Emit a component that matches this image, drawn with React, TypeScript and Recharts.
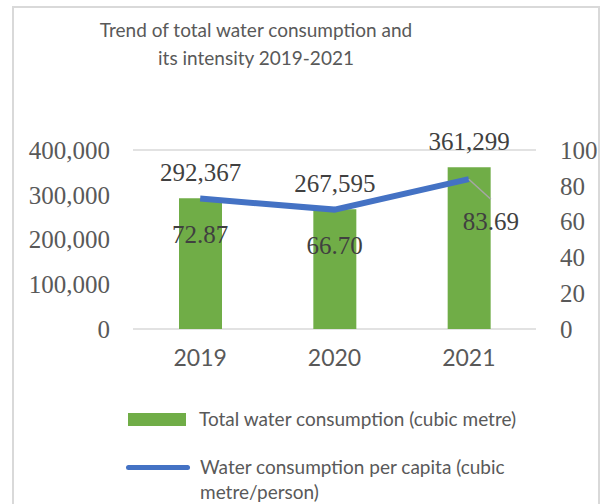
import React from "react";
import {
  ComposedChart,
  Bar,
  Line,
  XAxis,
  YAxis,
  CartesianGrid,
  LabelList,
} from "recharts";

const years = ["2019", "2020", "2021"];
const totalWater = [292367, 267595, 361299];
const perCapita = [72.87, 66.7, 83.69];
const leftTicks = [0, 100000, 200000, 300000, 400000];
const rightTicks = [0, 20, 40, 60, 80, 100];
const titleLines = ["Trend of total water consumption and", "its intensity 2019-2021"];
const barName = "Total water consumption (cubic metre)";
const lineName = "Water consumption per capita (cubic metre/person)";

const data = years.map((y, i) => ({ year: y, total: totalWater[i], perCapita: perCapita[i] }));

const SERIF = "'Liberation Serif', 'Times New Roman', serif";
const SANS = "Lato, 'Open Sans', sans-serif";
const GREEN = "#70AD47";
const BLUE = "#4472C4";

const fmt = (v: number) => v.toLocaleString("en-US");

const LineLabel = (props: any) => {
  const { x, y, value, index } = props;
  const text = Number(value).toFixed(2);
  if (index === 2) {
    return (
      <g>
        <line x1={x} y1={y} x2={x + 22} y2={y + 20} stroke="#A6A6A6" strokeWidth={1.5} />
        <text x={x + 22} y={y + 51} textAnchor="middle" fontFamily={SERIF} fontSize={25} fill="#404040">
          {text}
        </text>
      </g>
    );
  }
  return (
    <text x={x} y={y + 44} textAnchor="middle" fontFamily={SERIF} fontSize={25} fill="#404040">
      {text}
    </text>
  );
};

const BarLabel = (props: any) => {
  const { x, y, width, value } = props;
  return (
    <text x={x + width / 2} y={y - 17} textAnchor="middle" fontFamily={SERIF} fontSize={25} fill="#404040">
      {fmt(value)}
    </text>
  );
};

export default function App() {
  return (
    <div style={{ position: "absolute", left: 0, top: 0, width: 604, height: 504, background: "#fff", overflow: "hidden" }}>
      <div
        style={{
          position: "absolute",
          left: 12,
          top: 6,
          width: 588,
          height: 520,
          border: "2px solid #D9D9D9",
          boxSizing: "border-box",
        }}
      />
      <div
        style={{
          position: "absolute",
          left: 56,
          top: 16,
          width: 400,
          textAlign: "center",
          fontFamily: SANS,
          fontSize: 19,
          lineHeight: "28px",
          color: "#595959",
        }}
      >
        {titleLines.map((t) => (
          <div key={t}>{t}</div>
        ))}
      </div>
      <div style={{ position: "absolute", left: 0, top: 0 }}>
        <ComposedChart
          width={604}
          height={504}
          data={data}
          margin={{ top: 150, right: 0, bottom: 135, left: 0 }}
          barCategoryGap={0}
        >
          <CartesianGrid vertical={false} stroke="#D9D9D9" strokeWidth={1.5} />
          <XAxis
            dataKey="year"
            axisLine={false}
            tickLine={false}
            tickSize={0}
            tickMargin={21}
            height={40}
            tick={{ fontFamily: SANS, fontSize: 23, fill: "#595959" }}
          />
          <YAxis
            yAxisId="left"
            orientation="left"
            domain={[0, 400000]}
            ticks={leftTicks}
            tickFormatter={fmt}
            axisLine={false}
            tickLine={false}
            tickSize={0}
            tickMargin={23}
            width={133}
            tick={{ fontFamily: SERIF, fontSize: 25, fill: "#595959" }}
          />
          <YAxis
            yAxisId="right"
            orientation="right"
            domain={[0, 100]}
            ticks={rightTicks}
            axisLine={false}
            tickLine={false}
            tickSize={0}
            tickMargin={24}
            width={68}
            tick={{ fontFamily: SERIF, fontSize: 25, fill: "#595959", textAnchor: "start" }}
          />
          <Bar yAxisId="left" dataKey="total" name={barName} fill={GREEN} barSize={43} isAnimationActive={false}>
            <LabelList dataKey="total" content={BarLabel} />
          </Bar>
          <Line
            yAxisId="right"
            dataKey="perCapita"
            name={lineName}
            stroke={BLUE}
            strokeWidth={6}
            dot={false}
            activeDot={false}
            isAnimationActive={false}
          >
            <LabelList dataKey="perCapita" content={LineLabel} />
          </Line>
        </ComposedChart>
      </div>
      <div style={{ position: "absolute", left: 128, top: 406, fontFamily: SANS, fontSize: 19, color: "#595959", lineHeight: "25px" }}>
        <div style={{ display: "flex", alignItems: "flex-start" }}>
          <div style={{ width: 58, height: 13, background: GREEN, marginTop: 7, marginRight: 13 }} />
          <div>{barName}</div>
        </div>
        <div style={{ display: "flex", alignItems: "flex-start", marginTop: 23, marginLeft: -2 }}>
          <div style={{ width: 64, height: 5, background: BLUE, borderRadius: 3, marginTop: 11, marginRight: 10 }} />
          <div style={{ width: 320 }}>{lineName}</div>
        </div>
      </div>
    </div>
  );
}
